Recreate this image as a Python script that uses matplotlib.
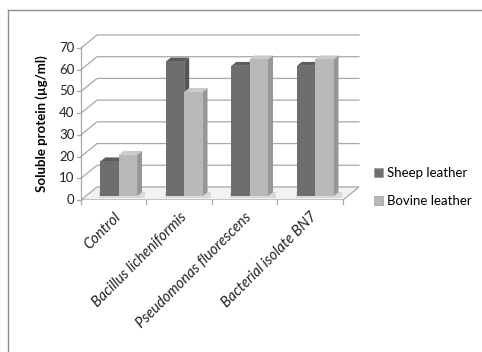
import numpy as np
import matplotlib
matplotlib.use("Agg")
import matplotlib.pyplot as plt
from matplotlib.patches import Polygon, Rectangle
from matplotlib.lines import Line2D

plt.rcParams['font.family'] = ['Lato', 'DejaVu Sans']

# data
categories = ['Control', 'Bacillus licheniformis', 'Pseudomonas fluorescens',
              'Bacterial isolate BN7']
sheep = [16, 62, 60, 60]
bovine = [19, 48, 63, 63]
series_names = ['Sheep leather', 'Bovine leather']
yticks = [0, 10, 20, 30, 40, 50, 60, 70]

# pseudo 3d look
DX, DY = 0.245, 6.0          # depth of the floor / back wall
BX, BY = 0.076, 1.8          # bar depth and offset
W = 0.28

front = ['#6e6e6e', '#b9b9b9']
top = ['#5c5c5c', '#cacaca']
side = ['#555555', '#979797']
grid_c = '#a8a8a8'

fig = plt.figure(figsize=(4.82, 3.52), dpi=100)
ax = fig.add_axes([81/482, 152/352, 278/482, 165/352])
ax.set_xlim(0, 4 + DX)
ax.set_ylim(0, 70 + DY)
ax.axis('off')

# floor
n = len(categories)
ax.add_patch(Polygon([(0, 0), (n, 0), (n + DX, DY), (DX, DY)], closed=True,
                     facecolor='#f2f2f2', edgecolor=grid_c, lw=0.9, zorder=1))
# gridlines: side wall diagonal + back wall
for v in yticks[1:]:
    ax.plot([0, DX, n + DX], [v, v + DY, v + DY], color=grid_c, lw=0.9, zorder=1,
            clip_on=False)
# front axis line and ticks
ax.plot([0, 0], [0, 70], color=grid_c, lw=0.9, clip_on=False, zorder=2)
for v in yticks:
    ax.plot([-0.06, 0], [v, v], color=grid_c, lw=0.9, clip_on=False, zorder=2)
    ax.text(-0.1, v, str(v), ha='right', va='center', fontsize=9.5, color='#222222')
for i in range(n + 1):
    ax.plot([i, i], [0, -1.8], color=grid_c, lw=0.9, clip_on=False, zorder=2)


def draw_bar(x0, v, k):
    x1 = x0 + W
    # shadow on floor
    ax.add_patch(Polygon([(x0 - 0.02, BY - 0.8), (x1 + BX + 0.05, BY - 0.8),
                          (x1 + BX + 0.05, BY + 2.0), (x0 - 0.02, BY + 2.0)],
                         closed=True, facecolor='#d9d9d9', edgecolor='none', zorder=2))
    ax.add_patch(Polygon([(x1, BY), (x1, v + BY), (x1 + BX, v + 2 * BY), (x1 + BX, 2 * BY)],
                         closed=True, facecolor=side[k], edgecolor='none', zorder=3))
    ax.add_patch(Polygon([(x0, v + BY), (x1, v + BY), (x1 + BX, v + 2 * BY),
                          (x0 + BX, v + 2 * BY)],
                         closed=True, facecolor=top[k], edgecolor='none', zorder=3))
    ax.add_patch(Rectangle((x0, BY), W, v, facecolor=front[k], edgecolor='none', zorder=3))


for i in range(n):
    xs = i + BX + 0.5 - W
    draw_bar(xs, sheep[i], 0)
    draw_bar(xs + W, bovine[i], 1)

# category labels
for i, c in enumerate(categories):
    ax.text(i + 0.5, -4.5, c, rotation=45, ha='right', va='top',
            rotation_mode='anchor', fontsize=10.5, fontstyle='italic', color='#222222')

ax.text(-0.6, 35, 'Soluble protein (µg/ml)', rotation=90, ha='center', va='center',
        fontsize=9.5, fontweight='bold', transform=ax.transData)

handles = [Rectangle((0, 0), 1, 1, facecolor=front[k], edgecolor='#999999', lw=0.5)
           for k in range(2)]
fig.legend(handles, series_names, loc='upper left', bbox_to_anchor=(362/482, 1 - 155/352),
           frameon=False, fontsize=9.5, handlelength=0.7, handleheight=0.7,
           handletextpad=0.3, labelspacing=1.25)

# outer border (top and left visible)
fig.add_artist(Line2D([8/482, 8/482], [0, 1 - 10/352], color='#8c8c8c', lw=1.0))
fig.add_artist(Line2D([8/482, 1], [1 - 10/352, 1 - 10/352], color='#8c8c8c', lw=1.0))

fig.savefig('out.png', dpi=100)
